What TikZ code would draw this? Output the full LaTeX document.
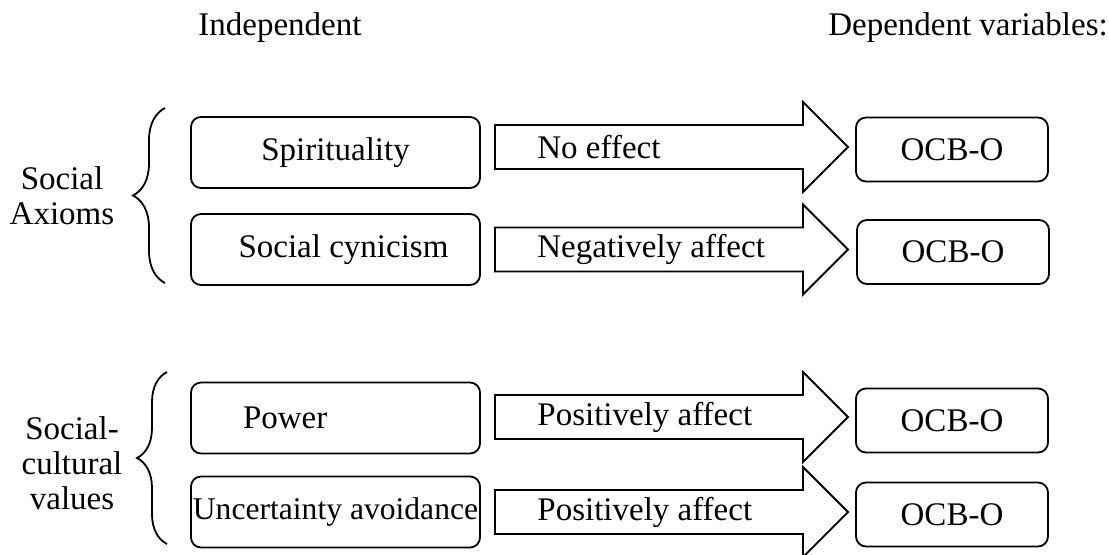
\documentclass[tikz,border=0pt]{standalone}
\usepackage{fontspec}
\setmainfont{Liberation Serif}
\usetikzlibrary{positioning}
\usetikzlibrary{decorations.pathreplacing}

\begin{document}
\begin{tikzpicture}[x=0.5pt, y=-0.5pt]
    \colorlet{border}{black}

\newcommand\shaft{22}
\newcommand\head{45}

\tikzset{
    every node/.style={
        font=\fontsize{16.5}{17.5}\selectfont,
    },
    factor box/.style={
        draw=border, line width=0.9pt,
        rounded corners=5pt,
        minimum width=144.5pt,
        minimum height=35.5pt,
        inner sep=0pt,
    },
    outcome box/.style={
        draw=border, line width=0.9pt,
        rounded corners=5pt,
        minimum width=96pt,
        minimum height=32pt,
        inner sep=0pt,
    },
    effect arrow/.style={
        draw=border, line width=0.9pt,
    },
    group brace/.style={
        draw=border, line width=0.9pt,
        decorate, decoration={brace, amplitude=#1},
    },
}

\newcommand\effectarrow[3]{
    \draw[effect arrow]
        (495, #1 - \shaft) -- (803, #1 - \shaft) -- (803, #1 - \head)
        -- (848, #1) -- (803, #1 + \head) -- (803, #1 + \shaft)
        -- (495, #1 + \shaft) -- cycle;
    \node[anchor=west, inner sep=0pt] (#2) at (537, #1) {#3};
}

\useasboundingbox (0, 0) rectangle (1109, 554);

    % headings
    \node[anchor=base] (indep) at (280, 35) {Independent};
    \node[anchor=base] (dep) at (968, 35) {Dependent variables:};

    % independent variables
    \node[factor box] (spirit) at (335.5, 152.5) {Spirituality};
    \node[factor box] (cynic) at (335.5, 249.5) {\hspace*{8pt}Social cynicism};
    \node[factor box, text width=92.5pt, inner xsep=26pt, align=left]
        (power) at (335.5, 418) {Power};
    \node[factor box, font=\fontsize{15.8}{17}\selectfont]
        (uncert) at (335.5, 512) {Uncertainty avoidance};

    % dependent variables
    \node[outcome box] (ocb-a) at (952, 149.5) {OCB-O};
    \node[outcome box] (ocb-b) at (953, 252) {OCB-O};
    \node[outcome box] (ocb-c) at (952, 420.5) {OCB-O};
    \node[outcome box] (ocb-d) at (952, 514.5) {OCB-O};

    % effects
    \effectarrow{147}{eff-a}{No effect}
    \effectarrow{249.5}{eff-b}{Negatively affect}
    \effectarrow{417}{eff-c}{Positively affect}
    \effectarrow{512}{eff-d}{Positively affect}

    % groups
    \draw[group brace=16pt] (165, 283) -- (165, 108);
    \draw[group brace=15pt] (167, 544) -- (167, 372);

    \node[align=center] (axioms) at (62, 196) {Social\\Axioms};
    \node[align=center] (values) at (72, 463) {Social-\\cultural\\values};
\end{tikzpicture}
\end{document}
